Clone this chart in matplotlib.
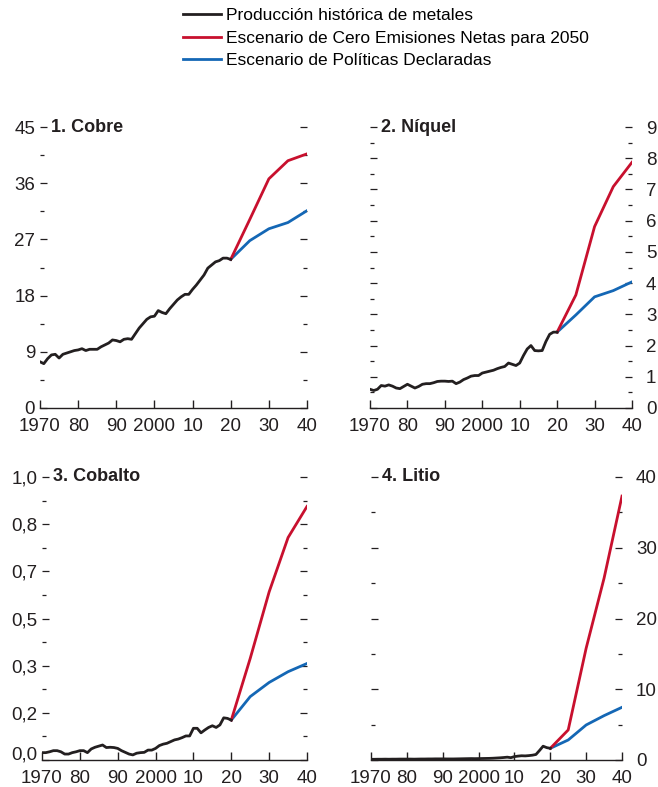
import numpy as np
import matplotlib.pyplot as plt
from matplotlib import font_manager
from matplotlib.ticker import FixedLocator, MultipleLocator
from matplotlib.lines import Line2D

names = {f.name for f in font_manager.fontManager.ttflist}
font = 'Liberation Sans Narrow' if 'Liberation Sans Narrow' in names else 'Liberation Sans'
plt.rcParams['font.family'] = [font, 'DejaVu Sans']

# datos
years_hist = list(range(1970, 2021))
years_proj = [2020, 2025, 2030, 2035, 2040]
xtick_labels = ['1970', '80', '90', '2000', '10', '20', '30', '40']

cobre_hist = [7.4, 7.1, 7.9, 8.5, 8.6, 8.0, 8.6, 8.8, 9.0, 9.2,
              9.3, 9.5, 9.2, 9.4, 9.4, 9.4, 9.8, 10.1, 10.4, 10.9,
              10.8, 10.6, 11.0, 11.1, 11.0, 11.9, 12.8, 13.5, 14.2, 14.6,
              14.7, 15.6, 15.3, 15.1, 15.9, 16.6, 17.3, 17.8, 18.2, 18.2,
              19.0, 19.7, 20.5, 21.3, 22.4, 22.9, 23.4, 23.6, 24.0, 24.0, 23.8]
cobre_nze = [23.8, 30.2, 36.7, 39.6, 40.7]
cobre_steps = [23.8, 26.8, 28.7, 29.7, 31.6]

niquel_hist = [0.60, 0.56, 0.60, 0.72, 0.70, 0.74, 0.70, 0.64, 0.62, 0.69,
               0.76, 0.70, 0.64, 0.69, 0.76, 0.78, 0.78, 0.81, 0.85, 0.86,
               0.86, 0.85, 0.86, 0.78, 0.83, 0.91, 0.96, 1.02, 1.04, 1.04,
               1.12, 1.15, 1.18, 1.21, 1.26, 1.30, 1.33, 1.44, 1.40, 1.36,
               1.44, 1.68, 1.89, 2.00, 1.84, 1.83, 1.84, 2.13, 2.36, 2.43, 2.43]
niquel_nze = [2.43, 3.62, 5.81, 7.09, 7.87]
niquel_steps = [2.43, 2.98, 3.56, 3.76, 4.04]

cobalto_hist = [0.026, 0.026, 0.029, 0.033, 0.033, 0.029, 0.021, 0.021, 0.026, 0.029,
                0.033, 0.033, 0.026, 0.039, 0.045, 0.049, 0.053, 0.044, 0.045, 0.044,
                0.041, 0.033, 0.027, 0.021, 0.018, 0.024, 0.026, 0.027, 0.035, 0.035,
                0.041, 0.051, 0.056, 0.059, 0.065, 0.071, 0.074, 0.079, 0.085, 0.085,
                0.112, 0.112, 0.096, 0.106, 0.115, 0.121, 0.115, 0.124, 0.149, 0.147, 0.141]
cobalto_nze = [0.141, 0.359, 0.594, 0.786, 0.896]
cobalto_steps = [0.141, 0.224, 0.274, 0.312, 0.341]

litio_hist = [0.10, 0.10, 0.11, 0.11, 0.12, 0.11, 0.12, 0.12, 0.13, 0.13,
              0.13, 0.13, 0.12, 0.13, 0.14, 0.14, 0.15, 0.15, 0.16, 0.16,
              0.16, 0.15, 0.15, 0.15, 0.16, 0.17, 0.18, 0.19, 0.20, 0.19,
              0.20, 0.21, 0.22, 0.23, 0.25, 0.28, 0.31, 0.35, 0.40, 0.33,
              0.48, 0.55, 0.60, 0.58, 0.62, 0.68, 0.78, 1.35, 1.95, 1.75, 1.65]
litio_nze = [1.65, 4.25, 15.8, 25.7, 37.3]
litio_steps = [1.65, 2.83, 4.95, 6.27, 7.45]

BLACK = '#231f20'
RED = '#c8102e'
BLUE = '#1467b5'
FS = 12.5
TFS = 13.5

fig = plt.figure(figsize=(6.58, 7.87), dpi=100)
W, H = 658, 787


def make_ax(x0, x1, ytop, ybot):
    return fig.add_axes([x0 / W, 1 - ybot / H, (x1 - x0) / W, (ybot - ytop) / H])


ax1 = make_ax(40, 307, 127, 408)
ax2 = make_ax(370, 632, 127, 408)
ax3 = make_ax(42, 307, 477, 760)
ax4 = make_ax(371, 622, 477, 760)

panels = [
    (ax1, '1. Cobre', cobre_hist, cobre_nze, cobre_steps, 'left'),
    (ax2, '2. Níquel', niquel_hist, niquel_nze, niquel_steps, 'right'),
    (ax3, '3. Cobalto', cobalto_hist, cobalto_nze, cobalto_steps, 'left'),
    (ax4, '4. Litio', litio_hist, litio_nze, litio_steps, 'right'),
]

for ax, title, hist, nze, steps, side in panels:
    ax.plot(years_proj, steps, color=BLUE, lw=2)
    ax.plot(years_proj, nze, color=RED, lw=2)
    ax.plot(years_hist, hist, color=BLACK, lw=2)
    for s in ['top', 'left', 'right']:
        ax.spines[s].set_visible(False)
    ax.spines['bottom'].set_linewidth(1.0)
    ax.spines['bottom'].set_color(BLACK)
    ax.set_xlim(1970, 2040)
    ax.set_xticks(range(1970, 2041, 10))
    ax.set_xticklabels(xtick_labels)
    ax.tick_params(axis='x', direction='in', length=6, width=1, pad=7,
                   labelsize=TFS, colors=BLACK)
    ax.tick_params(axis='y', which='both', direction='in', left=True, right=True,
                   width=0.9, colors=BLACK, labelsize=TFS,
                   labelleft=(side == 'left'), labelright=(side == 'right'),
                   pad=(3.5 if side == 'left' else 10))
    ax.tick_params(axis='y', which='major', length=5)
    ax.tick_params(axis='y', which='minor', length=3)
    ax.annotate(title, xy=(0, 1), xycoords='axes fraction', xytext=(8, 0),
                textcoords='offset points', va='center', ha='left',
                fontsize=FS + 0.5, fontweight='bold', color=BLACK)

ax1.set_ylim(0, 45)
ax1.yaxis.set_major_locator(MultipleLocator(9))
ax1.yaxis.set_minor_locator(MultipleLocator(4.5))

ax2.set_ylim(0, 9)
ax2.yaxis.set_major_locator(MultipleLocator(1))
ax2.yaxis.set_minor_locator(MultipleLocator(0.5))

ax3.set_ylim(0, 1)
ax3.yaxis.set_major_locator(FixedLocator([k / 6 for k in range(7)]))
ax3.yaxis.set_minor_locator(FixedLocator([k / 12 for k in range(13)]))
ax3.set_yticklabels([f'{k / 6:.1f}'.replace('.', ',') for k in range(7)])

ax4.set_ylim(0, 40)
ax4.yaxis.set_major_locator(MultipleLocator(10))
ax4.yaxis.set_minor_locator(MultipleLocator(5))

# la etiqueta del cero va un poco por encima del eje
for ax in (ax1, ax3):
    ax.get_yticklabels()[0].set_va('baseline')

handles = [Line2D([], [], color=BLACK, lw=2),
           Line2D([], [], color=RED, lw=2),
           Line2D([], [], color=BLUE, lw=2)]
labels = ['Producción histórica de metales',
          'Escenario de Cero Emisiones Netas para 2050',
          'Escenario de Políticas Declaradas']
fig.legend(handles, labels, loc='upper left', bbox_to_anchor=(183 / W, 1 - 8 / H),
           frameon=False, fontsize=FS, handlelength=2.2, handletextpad=0.3,
           labelspacing=0.42, borderpad=0, borderaxespad=0)

fig.savefig('out.png', dpi=100)
